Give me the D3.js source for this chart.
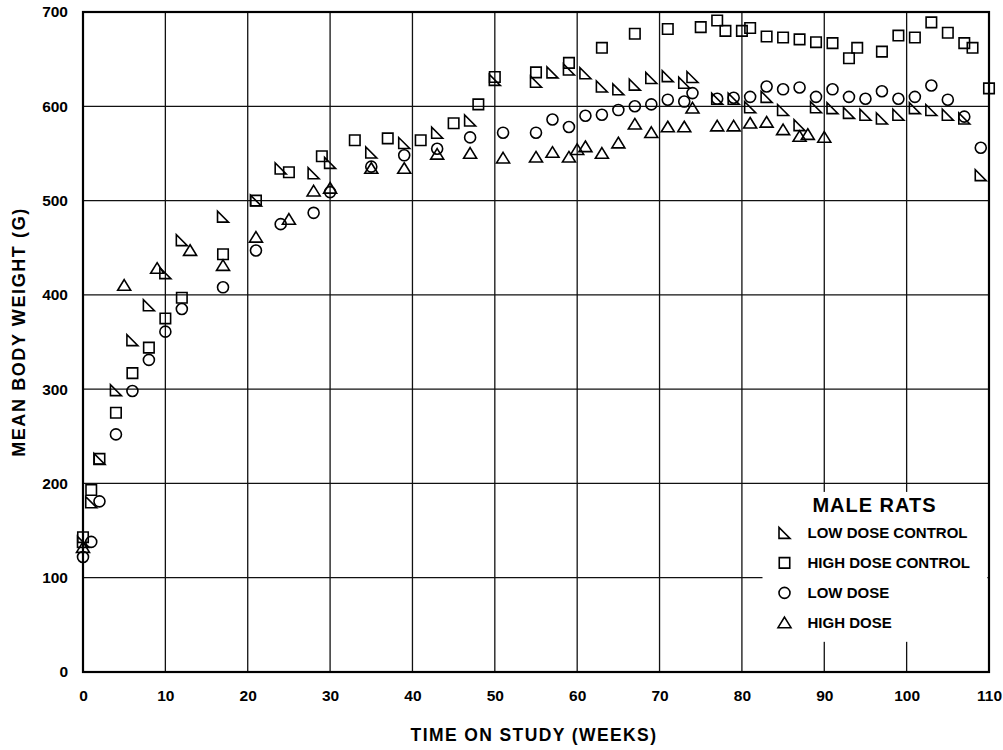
<!DOCTYPE html>
<html>
<head>
<meta charset="utf-8">
<script src="https://cdn.jsdelivr.net/npm/d3@7"></script>
<style>
  body { margin: 0; background: #fff; }
  text { font-family: "Liberation Sans", Arial, sans-serif; font-weight: bold; fill: #000; }
</style>
</head>
<body>
<svg class="chart"></svg>
<script>
// Mean body weight (g), by week
const ldcWeeks = [0, 1, 2, 4, 6, 8, 10, 12, 17, 21, 24, 28, 30, 35, 39, 43, 47, 50, 55, 57, 59, 61, 63, 65, 67, 69, 71, 73, 74, 77, 79, 81, 83, 85, 87, 89, 91, 93, 95, 97, 99, 101, 103, 105, 107, 109];
const ldcValues = [138, 180, 226, 299, 352, 389, 423, 458, 483, 500, 534, 529, 540, 551, 561, 572, 585, 628, 626, 636, 639, 635, 621, 618, 623, 630, 632, 625, 631, 608, 608, 599, 610, 596, 580, 599, 598, 593, 591, 587, 591, 598, 596, 591, 587, 527];

const hdcWeeks = [0, 1, 2, 4, 6, 8, 10, 12, 17, 21, 25, 29, 33, 37, 41, 45, 48, 50, 55, 59, 63, 67, 71, 75, 77, 78, 80, 81, 83, 85, 87, 89, 91, 93, 94, 97, 99, 101, 103, 105, 107, 108, 110];
const hdcValues = [143, 193, 226, 275, 317, 344, 375, 397, 443, 500, 530, 547, 564, 566, 564, 582, 602, 631, 636, 646, 662, 677, 682, 684, 691, 680, 680, 683, 674, 673, 671, 668, 667, 651, 662, 658, 675, 673, 689, 678, 667, 662, 619];

const ldWeeks = [0, 1, 2, 4, 6, 8, 10, 12, 17, 21, 24, 28, 30, 35, 39, 43, 47, 51, 55, 57, 59, 61, 63, 65, 67, 69, 71, 73, 74, 77, 79, 81, 83, 85, 87, 89, 91, 93, 95, 97, 99, 101, 103, 105, 107, 109];
const ldValues = [122, 138, 181, 252, 298, 331, 361, 385, 408, 447, 475, 487, 509, 536, 548, 555, 567, 572, 572, 586, 578, 590, 591, 596, 600, 602, 607, 605, 614, 608, 609, 610, 621, 618, 620, 610, 618, 610, 608, 616, 608, 610, 622, 607, 589, 556];

const hdWeeks = [0, 5, 9, 13, 17, 21, 25, 28, 30, 35, 39, 43, 47, 51, 55, 57, 59, 60, 61, 63, 65, 67, 69, 71, 73, 74, 77, 79, 81, 83, 85, 87, 88, 90];
const hdValues = [132, 410, 428, 447, 431, 461, 480, 510, 513, 534, 534, 549, 550, 545, 546, 551, 546, 554, 557, 550, 561, 581, 572, 578, 578, 598, 579, 579, 582, 583, 575, 568, 570, 567];

const xTicks = [0, 10, 20, 30, 40, 50, 60, 70, 80, 90, 100, 110];
const yTicks = [0, 100, 200, 300, 400, 500, 600, 700];
const legendLabels = ['LOW DOSE CONTROL', 'HIGH DOSE CONTROL', 'LOW DOSE', 'HIGH DOSE'];

const svgWidth = 1003;
const svgHeight = 750;
const margin = { top: 12, right: 14, bottom: 78, left: 83 };
const chartWidth = svgWidth - margin.left - margin.right;
const chartHeight = svgHeight - margin.top - margin.bottom;

const svg = d3.select('.chart')
  .attr('width', svgWidth)
  .attr('height', svgHeight);

const chart = svg.append('g')
  .attr('transform', 'translate(' + margin.left + ',' + margin.top + ')');

const xScale = d3.scaleLinear().domain([0, 110]).range([0, chartWidth]);
const yScale = d3.scaleLinear().domain([0, 700]).range([chartHeight, 0]);

// grid lines
chart.append('g')
  .selectAll('line')
  .data(xTicks)
  .enter()
  .append('line')
  .attr('x1', d => xScale(d)).attr('x2', d => xScale(d))
  .attr('y1', 0).attr('y2', chartHeight)
  .attr('stroke', '#111')
  .attr('stroke-width', 1.3);

chart.append('g')
  .selectAll('line')
  .data(yTicks)
  .enter()
  .append('line')
  .attr('x1', 0).attr('x2', chartWidth)
  .attr('y1', d => yScale(d)).attr('y2', d => yScale(d))
  .attr('stroke', '#111')
  .attr('stroke-width', 1.3);

// legend box hides the grid behind it
const legendX = xScale(82.5);
const legendY = yScale(191);
chart.append('rect')
  .attr('x', legendX)
  .attr('y', legendY)
  .attr('width', xScale(109.8) - legendX)
  .attr('height', yScale(32) - legendY)
  .attr('fill', '#fff');

// frame
chart.append('rect')
  .attr('width', chartWidth)
  .attr('height', chartHeight)
  .attr('fill', 'none')
  .attr('stroke', '#000')
  .attr('stroke-width', 2.2);

// axes labels
const xAxis = chart.append('g')
  .attr('transform', 'translate(0,' + chartHeight + ')')
  .call(d3.axisBottom(xScale).tickValues(xTicks).tickSize(0).tickPadding(18));
xAxis.select('.domain').remove();
xAxis.selectAll('text').attr('font-size', '15.5px').style('font-family', '"Liberation Sans", Arial, sans-serif').style('font-weight', 'bold');

const yAxis = chart.append('g')
  .call(d3.axisLeft(yScale).tickValues(yTicks).tickSize(0).tickPadding(15));
yAxis.select('.domain').remove();
yAxis.selectAll('text').attr('font-size', '15.5px').style('font-family', '"Liberation Sans", Arial, sans-serif').style('font-weight', 'bold');

svg.append('text')
  .attr('x', margin.left + xScale(55) - 2)
  .attr('y', 741)
  .attr('text-anchor', 'middle')
  .attr('font-size', '17.5px')
  .attr('letter-spacing', '1.4px')
  .text('TIME ON STUDY (WEEKS)');

svg.append('text')
  .attr('transform', 'rotate(-90)')
  .attr('x', -(margin.top + chartHeight / 2) + 10)
  .attr('y', 25)
  .attr('text-anchor', 'middle')
  .attr('font-size', '18px')
  .attr('letter-spacing', '1.6px')
  .text('MEAN BODY WEIGHT (G)');

// marker shapes
const symRightTri = { draw(ctx, size) { const s = Math.sqrt(size); ctx.moveTo(-s / 2, -s / 2); ctx.lineTo(-s / 2, s / 2); ctx.lineTo(s / 2, s / 2); ctx.closePath(); } };
const symSquare = { draw(ctx, size) { const s = Math.sqrt(size); ctx.rect(-s / 2, -s / 2, s, s); } };
const symCircle = { draw(ctx, size) { const r = Math.sqrt(size) / 2; ctx.moveTo(r, 0); ctx.arc(0, 0, r, 0, 2 * Math.PI); } };
const symTri = { draw(ctx, size) { const s = Math.sqrt(size); const h = s * 0.87; ctx.moveTo(0, -h / 2 - 1); ctx.lineTo(s / 2 + 1, h / 2); ctx.lineTo(-s / 2 - 1, h / 2); ctx.closePath(); } };

const series = [
  { weeks: ldcWeeks, values: ldcValues, shape: symRightTri, size: 121 },
  { weeks: hdcWeeks, values: hdcValues, shape: symSquare, size: 110 },
  { weeks: ldWeeks, values: ldValues, shape: symCircle, size: 121 },
  { weeks: hdWeeks, values: hdValues, shape: symTri, size: 121 }
];

series.forEach(s => {
  const pts = s.weeks.map((w, i) => ({ week: w, value: s.values[i] }));
  chart.append('g')
    .selectAll('path')
    .data(pts)
    .enter()
    .append('path')
    .attr('transform', d => 'translate(' + xScale(d.week) + ',' + yScale(d.value) + ')')
    .attr('d', d3.symbol().type(s.shape).size(s.size))
    .attr('fill', 'none')
    .attr('stroke', '#000')
    .attr('stroke-width', 1.6);
});

// legend
const legend = chart.append('g')
  .attr('transform', 'translate(' + legendX + ',' + legendY + ')');

legend.append('text')
  .attr('x', 112)
  .attr('y', 20)
  .attr('text-anchor', 'middle')
  .attr('font-size', '20px')
  .attr('letter-spacing', '1px')
  .text('MALE RATS');

legendLabels.forEach((label, i) => {
  legend.append('path')
    .attr('transform', 'translate(' + 22 + ',' + (41 + i * 30) + ')')
    .attr('d', d3.symbol().type(series[i].shape).size(series[i].size))
    .attr('fill', 'none')
    .attr('stroke', '#000')
    .attr('stroke-width', 1.6);

  legend.append('text')
    .attr('x', 45)
    .attr('y', 46.5 + i * 30)
    .attr('font-size', '15px')
    .text(label);
});
</script>
</body>
</html>
